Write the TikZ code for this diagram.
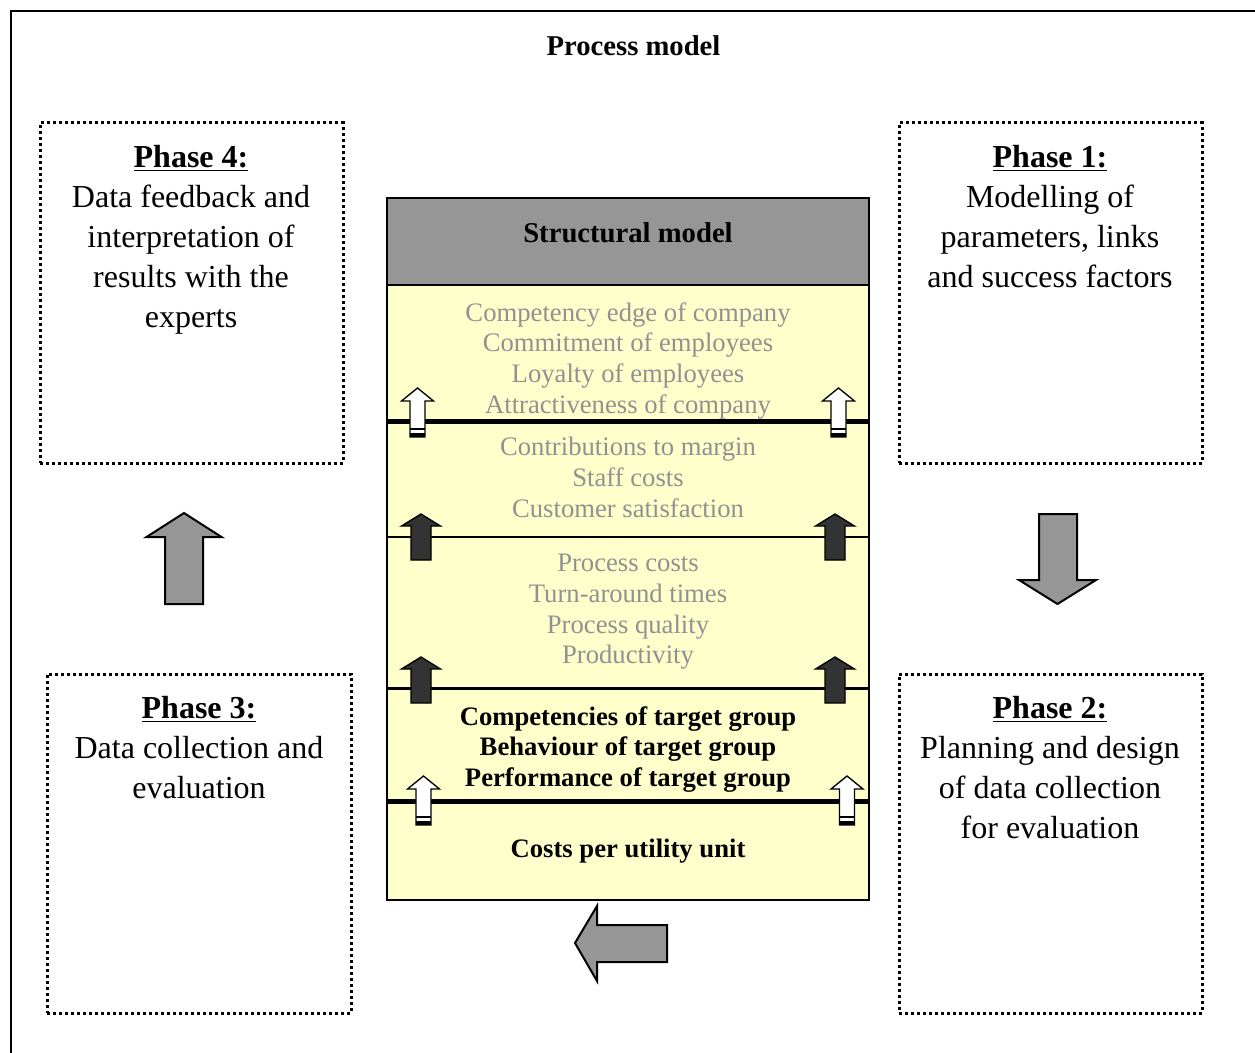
\documentclass[tikz,border=0pt]{standalone}
\usepackage{fontspec}
\setmainfont{Liberation Serif}
\definecolor{hdrgray}{RGB}{150,150,150}
\definecolor{paleyellow}{RGB}{255,255,204}
\definecolor{softtext}{RGB}{145,145,145}
\definecolor{darkfill}{RGB}{51,51,51}
\definecolor{arrowgray}{RGB}{150,150,150}
\begin{document}
\begin{tikzpicture}[x=0.75pt,y=-0.75pt,
  phasebox/.style={draw, line width=2.25pt, dash pattern=on 2.25pt off 2.25pt,
    minimum width=227.25pt, minimum height=255pt, inner sep=0pt},
  phasetext/.style={anchor=north, align=center, inner sep=0pt,
    font=\fontsize{24}{30}\selectfont},
  layertext/.style={anchor=north, align=center, inner sep=0pt,
    font=\fontsize{20}{23}\selectfont},
  bigarrow/.style={draw, line width=1.5pt, fill=arrowgray, line join=miter},
  darkup/.pic={\draw[fill=darkfill, line width=1pt]
    (0,0) -- (19.5,12) -- (10,12) -- (10,46) -- (-10,46) -- (-10,12) -- (-19.5,12) -- cycle;},
  whiteup/.pic={\draw[fill=white, line width=1pt]
    (0,0) -- (16,13) -- (7.5,13) -- (7.5,49) -- (-7.5,49) -- (-7.5,13) -- (-16,13) -- cycle;
    \fill[black] (-7.5,40) rectangle (7.5,42);
    \fill[black] (-7.5,44.5) rectangle (7.5,49);}
]
\useasboundingbox (0,0) rectangle (1255,1052);

% outer frame
\draw[line width=1.5pt] (10.5,1060) -- (10.5,11.5) -- (1260,11.5);

\node[font=\fontsize{21.5}{26}\selectfont\bfseries, anchor=north, inner sep=0pt]
  (title) at (633.5,35) {Process model};

% phase boxes
\node[phasebox] (p4) at (191.5,293) {};
\node[phasebox] (p1) at (1050.5,293) {};
\node[phasebox, minimum width=228pt, minimum height=254.25pt] (p3) at (199,843.5) {};
\node[phasebox, minimum height=254.25pt] (p2) at (1050.5,843.5) {};

\node[phasetext] (p4t) at (191,145) {\underline{\textbf{Phase 4:}}\\Data feedback and\\interpretation of\\results with the\\experts};
\node[phasetext] (p1t) at (1050,145) {\underline{\textbf{Phase 1:}}\\Modelling of\\parameters, links\\and success factors};
\node[phasetext] (p3t) at (199,696) {\underline{\textbf{Phase 3:}}\\Data collection and\\evaluation};
\node[phasetext] (p2t) at (1050,696) {\underline{\textbf{Phase 2:}}\\Planning and design\\of data collection\\for evaluation};

% structural model column
\node[draw, line width=1.5pt, fill=paleyellow, minimum width=361.5pt, minimum height=461.25pt,
  inner sep=0pt] (body) at (628,592.5) {};
\node[draw, line width=1.5pt, fill=hdrgray, minimum width=361.5pt, minimum height=65.25pt,
  inner sep=0pt] (hdr) at (628,241.5) {};
\node[font=\fontsize{21.5}{26}\selectfont\bfseries, anchor=north, inner sep=0pt]
  (hdrt) at (628,222) {Structural model};

% layer separators
\draw[line width=3.75pt] (388,421) -- (868,421);
\draw[line width=1.5pt] (388,537) -- (868,537);
\draw[line width=2pt] (388,688.5) -- (868,688.5);
\draw[line width=1.9pt] (388,800.25) -- (868,800.25);
\draw[line width=1.15pt] (388,803.25) -- (868,803.25);

% layer contents
\node[layertext, text=softtext] (l1) at (628,302) {Competency edge of company\\Commitment of employees\\Loyalty of employees\\Attractiveness of company};
\node[layertext, text=softtext] (l2) at (628,437) {Contributions to margin\\Staff costs\\Customer satisfaction};
\node[layertext, text=softtext] (l3) at (628,554) {Process costs\\Turn-around times\\Process quality\\Productivity};
\node[layertext, font=\fontsize{20}{23}\selectfont\bfseries] (l4) at (628,706) {Competencies of target group\\Behaviour of target group\\Performance of target group};
\node[layertext, font=\fontsize{20}{23}\selectfont\bfseries] (l5) at (628,839) {Costs per utility unit};

% arrows between layers
\pic at (417.5,388) {whiteup};
\pic at (838.5,388) {whiteup};
\pic at (421,514) {darkup};
\pic at (835,514) {darkup};
\pic at (421,657) {darkup};
\pic at (835,657) {darkup};
\pic at (423.5,776) {whiteup};
\pic at (847,776) {whiteup};

% cycle arrows
\draw[bigarrow] (184,513) -- (221.5,537) -- (203,537) -- (203,604) -- (165,604) -- (165,537) -- (146.5,537) -- cycle;
\draw[bigarrow] (1039,514) -- (1077,514) -- (1077,580) -- (1096,580) -- (1057.5,604) -- (1019,580) -- (1039,580) -- cycle;
\draw[bigarrow] (575,943) -- (597,906) -- (597,925) -- (667,925) -- (667,962) -- (597,962) -- (597,981) -- cycle;
\end{tikzpicture}
\end{document}
